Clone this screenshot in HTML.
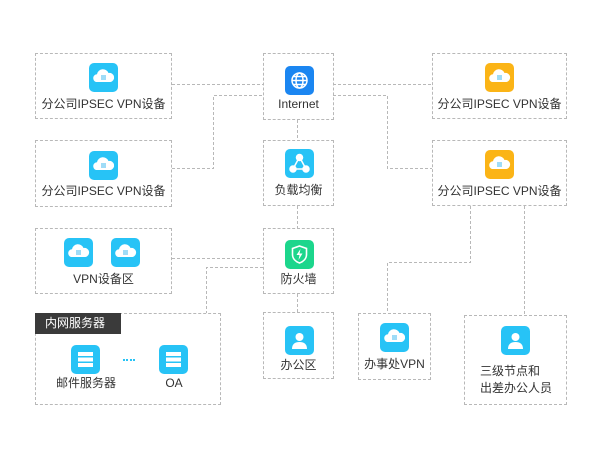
<!DOCTYPE html>
<html><head><meta charset="utf-8"><style>
body{margin:0;width:600px;height:450px;background:#fff;position:relative;overflow:hidden;font-family:"Liberation Sans","Noto Sans CJK SC",sans-serif;color:#333}
.b{position:absolute;border:1px dashed #b8b8b8;box-sizing:border-box}
.i{position:absolute;width:29px;height:29px;border-radius:5px}
.i svg{position:absolute;left:0;top:0}
.t{position:absolute;font-size:12px;white-space:nowrap;text-align:center;line-height:14px}
.c{background:#27c3f6}.o{background:#fbb416}.g{background:#1cd68c}.bl{background:#1b86f1}
</style></head><body>
<svg width="0" height="0" style="position:absolute">
<defs>
<g id="cloud"><path d="M7 19a4 4 0 0 1 1-7.8A6 6 0 0 1 19.5 10a4.5 4.5 0 0 1 2 9z" fill="#fff"/><rect x="12" y="12" width="5" height="5" fill="#9fdcf7"/></g>
<g id="srv" fill="#fff"><rect x="7" y="7" width="15" height="4"/><rect x="7" y="12.5" width="15" height="4"/><rect x="7" y="18" width="15" height="4"/></g>
<g id="person" fill="#fff"><circle cx="14.5" cy="11" r="4"/><path d="M7 23c0-5 3-7 7.5-7s7.5 2 7.5 7z"/></g>
</defs></svg>
<svg width="600" height="450" style="position:absolute;left:0;top:0">
<g stroke="#b8b8b8" stroke-width="1" stroke-dasharray="3,2" fill="none">
<path d="M172 84.5H263"/>
<path d="M172 168.5H213.5V95.5H263"/>
<path d="M333 84.5H432"/>
<path d="M333 95.5H387.5V168.5H432"/>
<path d="M297.5 120V140"/>
<path d="M297.5 206V228"/>
<path d="M172 258.5H263"/>
<path d="M263 267.5H206.5V313"/>
<path d="M297.5 294V312"/>
<path d="M470.5 206V262.5H387.5V313"/>
<path d="M524.5 206V315"/>
</g></svg>

<div class="b" style="left:35px;top:53px;width:137px;height:66px"></div>
<div class="i c" style="left:89px;top:63px"><svg width="29" height="29"><use href="#cloud"/></svg></div>
<div class="t" style="left:35px;width:137px;top:97px">分公司IPSEC VPN设备</div>

<div class="b" style="left:35px;top:140px;width:137px;height:67px"></div>
<div class="i c" style="left:89px;top:151px"><svg width="29" height="29"><use href="#cloud"/></svg></div>
<div class="t" style="left:35px;width:137px;top:184px">分公司IPSEC VPN设备</div>

<div class="b" style="left:35px;top:228px;width:137px;height:66px"></div>
<div class="i c" style="left:64px;top:238px"><svg width="29" height="29"><use href="#cloud"/></svg></div>
<div class="i c" style="left:111px;top:238px"><svg width="29" height="29"><use href="#cloud"/></svg></div>
<div class="t" style="left:35px;width:137px;top:272px">VPN设备区</div>

<div class="b" style="left:35px;top:313px;width:186px;height:92px"></div>
<div style="position:absolute;left:35px;top:313px;width:86px;height:21px;background:#3a3a3a;color:#fff;font-size:12px;line-height:21px;padding-left:10px;box-sizing:border-box">内网服务器</div>
<div class="i c" style="left:71px;top:345px"><svg width="29" height="29"><use href="#srv"/></svg></div>
<div class="i c" style="left:159px;top:345px"><svg width="29" height="29"><use href="#srv"/></svg></div>
<div style="position:absolute;left:123px;top:359px;width:12px;height:2px;border-top:2px dotted #27c3f6"></div>
<div class="t" style="left:46px;width:80px;top:376px">邮件服务器</div>
<div class="t" style="left:134px;width:80px;top:376px">OA</div>

<div class="b" style="left:263px;top:53px;width:71px;height:67px"></div>
<div class="i bl" style="left:285px;top:66px"><svg width="29" height="29"><g fill="none" stroke="#fff" stroke-width="1.5"><circle cx="14.5" cy="14.5" r="7.5"/><ellipse cx="14.5" cy="14.5" rx="3.5" ry="7.5"/><path d="M7 14.5h15M8.5 10.5h12M8.5 18.5h12"/></g></svg></div>
<div class="t" style="left:263px;width:71px;top:97px">Internet</div>

<div class="b" style="left:263px;top:140px;width:71px;height:66px"></div>
<div class="i c" style="left:285px;top:149px"><svg width="29" height="29"><g fill="#fff" stroke="#fff" stroke-width="1.5"><path d="M14.5 8L8 20h13z" fill="none"/><circle cx="14.5" cy="8.5" r="3"/><circle cx="8" cy="20" r="3"/><circle cx="21" cy="20" r="3"/></g></svg></div>
<div class="t" style="left:263px;width:71px;top:183px">负载均衡</div>

<div class="b" style="left:263px;top:228px;width:71px;height:66px"></div>
<div class="i g" style="left:285px;top:240px"><svg width="29" height="29"><path d="M14.5 6l7 2.5v6c0 4-3 7-7 8.5-4-1.5-7-4.5-7-8.5v-6z" fill="none" stroke="#fff" stroke-width="1.6"/><path d="M15.5 9l-4 6h3l-1 5 4-6.5h-3z" fill="#fff"/></svg></div>
<div class="t" style="left:263px;width:71px;top:272px">防火墙</div>

<div class="b" style="left:263px;top:312px;width:71px;height:67px"></div>
<div class="i c" style="left:285px;top:326px"><svg width="29" height="29"><use href="#person"/></svg></div>
<div class="t" style="left:263px;width:71px;top:358px">办公区</div>

<div class="b" style="left:432px;top:53px;width:135px;height:66px"></div>
<div class="i o" style="left:485px;top:63px"><svg width="29" height="29"><use href="#cloud"/></svg></div>
<div class="t" style="left:432px;width:135px;top:97px">分公司IPSEC VPN设备</div>

<div class="b" style="left:432px;top:140px;width:135px;height:66px"></div>
<div class="i o" style="left:485px;top:150px"><svg width="29" height="29"><use href="#cloud"/></svg></div>
<div class="t" style="left:432px;width:135px;top:184px">分公司IPSEC VPN设备</div>

<div class="b" style="left:358px;top:313px;width:73px;height:67px"></div>
<div class="i c" style="left:380px;top:323px"><svg width="29" height="29"><use href="#cloud"/></svg></div>
<div class="t" style="left:358px;width:73px;top:357px">办事处VPN</div>

<div class="b" style="left:464px;top:315px;width:103px;height:90px"></div>
<div class="i c" style="left:501px;top:326px"><svg width="29" height="29"><use href="#person"/></svg></div>
<div class="t" style="left:480px;top:363px;text-align:left;line-height:17px">三级节点和<br>出差办公人员</div>
</body></html>
